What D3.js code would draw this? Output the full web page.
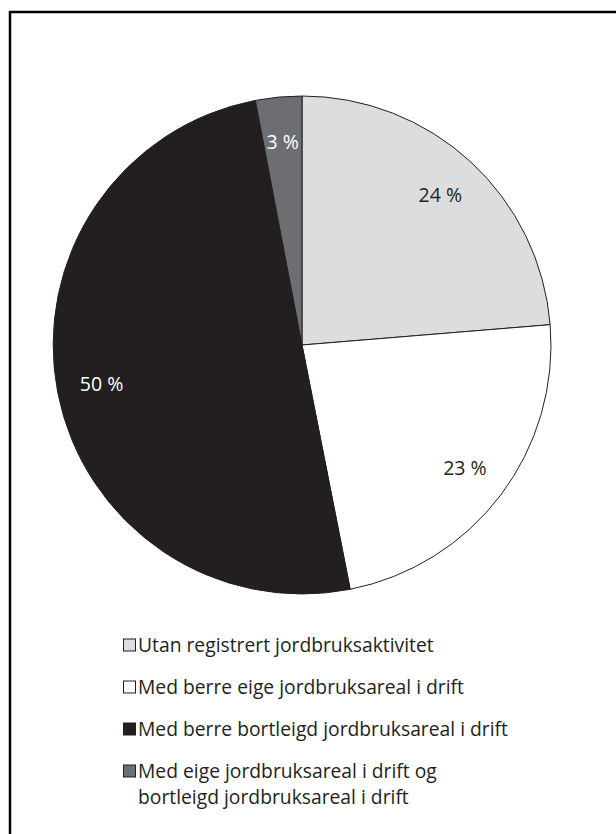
<!DOCTYPE html>
<html>
<head>
<meta charset="utf-8">
<script src="https://cdn.jsdelivr.net/npm/d3@7"></script>
<style>
  html, body { margin: 0; padding: 0; background: #fff; }
  svg { display: block; }
</style>
</head>
<body>
<svg id="chart" width="616" height="834"></svg>
<script>
const categories = [
  "Utan registrert jordbruksaktivitet",
  "Med berre eige jordbruksareal i drift",
  "Med berre bortleigd jordbruksareal i drift",
  "Med eige jordbruksareal i drift og bortleigd jordbruksareal i drift"
];
const legendLines = [
  ["Utan registrert jordbruksaktivitet"],
  ["Med berre eige jordbruksareal i drift"],
  ["Med berre bortleigd jordbruksareal i drift"],
  ["Med eige jordbruksareal i drift og", "bortleigd jordbruksareal i drift"]
];
const values = [23.7, 23.2, 50.1, 3.0];
const valueLabels = ["24 %", "23 %", "50 %", "3 %"];
const colors = ["#dcdddf", "#ffffff", "#231f20", "#6d6e71"];
const labelColors = ["#231f20", "#231f20", "#ffffff", "#ffffff"];

const FONT = "'Open Sans', 'Noto Sans', sans-serif";
const svg = d3.select("#chart");

// frame
svg.append("rect")
  .attr("x", 10).attr("y", 12)
  .attr("width", 640).attr("height", 860)
  .attr("fill", "none")
  .attr("stroke", "#000")
  .attr("stroke-width", 2.5);

const cx = 302, cy = 345, R = 249;
const data = categories.map((c, i) => ({ name: c, value: values[i], i }));

const pie = d3.pie().value(d => d.value).sort(null);
const arc = d3.arc().innerRadius(0).outerRadius(R);
const labelArc = d3.arc().innerRadius(R * 0.82).outerRadius(R * 0.82);

const g = svg.append("g").attr("transform", `translate(${cx},${cy})`);
const arcs = pie(data);

g.selectAll("path.slice")
  .data(arcs)
  .join("path")
  .attr("class", "slice")
  .attr("d", arc)
  .attr("fill", d => colors[d.data.i])
  .attr("stroke", "#231f20")
  .attr("stroke-width", 1)
  .attr("stroke-linejoin", "round");

g.selectAll("text.lab")
  .data(arcs)
  .join("text")
  .attr("class", "lab")
  .attr("transform", d => `translate(${labelArc.centroid(d)})`)
  .attr("text-anchor", "middle")
  .attr("dy", "0.35em")
  .attr("font-family", FONT)
  .attr("font-size", 19.5)
  .attr("fill", d => labelColors[d.data.i])
  .text(d => valueLabels[d.data.i]);

// legend
const legendX = 123, legendY0 = 645, rowH = 42, wrapH = 26, box = 12;
const lg = svg.append("g");
let y = legendY0;
legendLines.forEach((lines, i) => {
  const row = lg.append("g").attr("transform", `translate(${legendX},${y})`);
  row.append("rect")
    .attr("x", 0.5).attr("y", -box / 2)
    .attr("width", box).attr("height", box)
    .attr("fill", colors[i])
    .attr("stroke", "#231f20")
    .attr("stroke-width", 1);
  lines.forEach((t, k) => {
    row.append("text")
      .attr("x", 15)
      .attr("y", k * wrapH)
      .attr("dy", "0.35em")
      .attr("font-family", FONT)
      .attr("font-size", 19.3)
      .attr("fill", "#231f20")
      .text(t);
  });
  y += rowH;
});
</script>
</body>
</html>
